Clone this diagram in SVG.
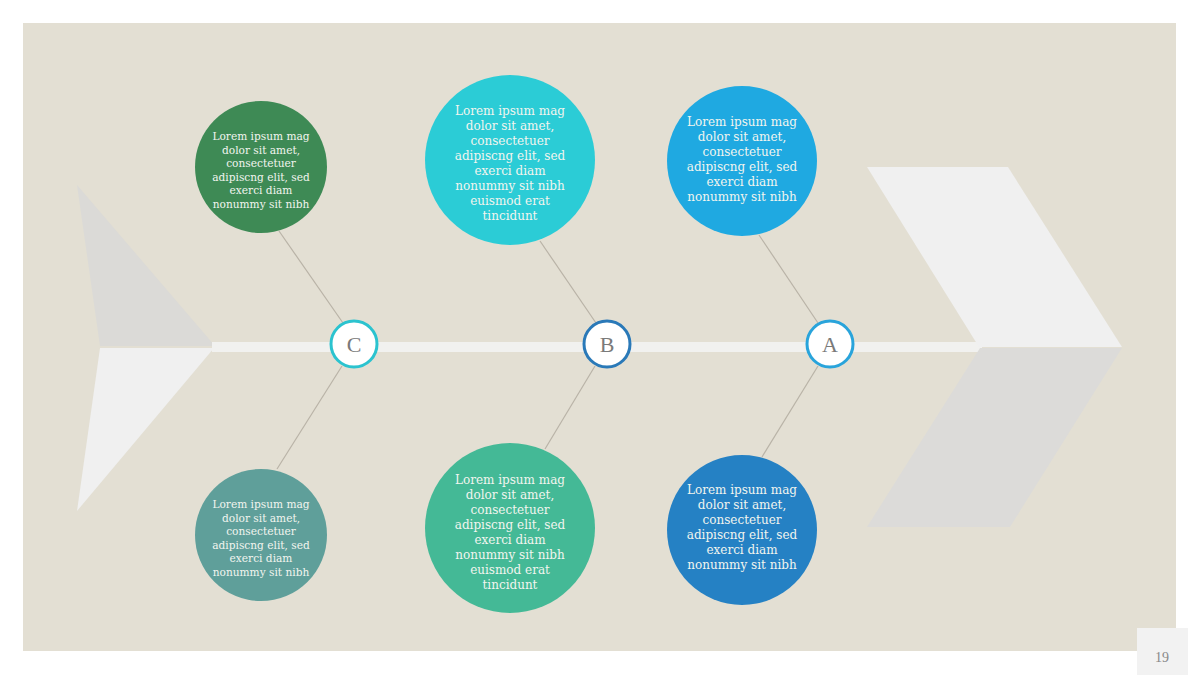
<svg xmlns="http://www.w3.org/2000/svg" width="1200" height="675" viewBox="0 0 1200 675">
<style>
.bub{font-family:"DejaVu Serif","Liberation Serif",serif;fill:#f2f5ef;text-anchor:middle}
.s{font-size:10.6px}
.m{font-size:12px}
.lbl{font-family:"Liberation Serif","DejaVu Serif",serif;font-size:22px;fill:#7a7a7a;text-anchor:middle}
.ring{fill:#ffffff;stroke-width:3}
.bone{stroke:#b9b3a7;stroke-width:1.2;fill:none}
</style>
<rect width="1200" height="675" fill="#ffffff"/>
<rect x="23" y="23" width="1153" height="628" fill="#e3dfd3"/>
<rect x="1137" y="628" width="51" height="47" fill="#f2f2f2"/>
<text x="1162" y="662" font-family="Liberation Serif, serif" font-size="14" fill="#888" text-anchor="middle">19</text>

<g id="tail">
<polygon points="77,185 215,346 100,346" fill="#dbdad7"/>
<polygon points="100,348 214,348 77,511" fill="#f0f0f0"/>
</g>
<g id="spine">
<rect x="212" y="342" width="770" height="10" fill="#f1f1ef"/>
</g>
<g id="head">
<polygon points="867,167 1008,167 1122,347 979,347" fill="#f0f0f0"/>
<polygon points="980,348 1122,348 1010,527 867,527" fill="#dcdbd9"/>
</g>

<g id="connectors">
<line class="bone" x1="279" y1="231" x2="343" y2="323"/>
<line class="bone" x1="342" y1="366" x2="277" y2="469"/>
<line class="bone" x1="540" y1="241" x2="596" y2="323"/>
<line class="bone" x1="595" y1="366" x2="545" y2="449"/>
<line class="bone" x1="759" y1="235" x2="818" y2="323"/>
<line class="bone" x1="818" y1="366" x2="762" y2="457"/>
</g>

<g id="nodeC"><circle class="ring" cx="354" cy="344" r="23" stroke="#2bc3cf"/><text class="lbl" x="354" y="352">C</text></g>
<g id="nodeB"><circle class="ring" cx="607" cy="344" r="23" stroke="#2a79b8"/><text class="lbl" x="607" y="352">B</text></g>
<g id="nodeA"><circle class="ring" cx="830" cy="344" r="23" stroke="#29a4db"/><text class="lbl" x="830" y="352">A</text></g>

<g id="c-top">
<circle cx="261" cy="167" r="66" fill="#3e8a55"/>
<text class="bub s"><tspan x="261" y="140">Lorem ipsum mag</tspan><tspan x="261" y="154">dolor sit amet,</tspan><tspan x="261" y="167">consectetuer</tspan><tspan x="261" y="181">adipiscng elit, sed</tspan><tspan x="261" y="194">exerci diam</tspan><tspan x="261" y="208">nonummy sit nibh</tspan></text>
</g>
<g id="c-bottom">
<circle cx="261" cy="535" r="66" fill="#5f9f9a"/>
<text class="bub s"><tspan x="261" y="508">Lorem ipsum mag</tspan><tspan x="261" y="522">dolor sit amet,</tspan><tspan x="261" y="535">consectetuer</tspan><tspan x="261" y="549">adipiscng elit, sed</tspan><tspan x="261" y="562">exerci diam</tspan><tspan x="261" y="576">nonummy sit nibh</tspan></text>
</g>
<g id="b-top">
<circle cx="510" cy="160" r="85" fill="#2bccd6"/>
<text class="bub m"><tspan x="510" y="115">Lorem ipsum mag</tspan><tspan x="510" y="130">dolor sit amet,</tspan><tspan x="510" y="145">consectetuer</tspan><tspan x="510" y="160">adipiscng elit, sed</tspan><tspan x="510" y="175">exerci diam</tspan><tspan x="510" y="190">nonummy sit nibh</tspan><tspan x="510" y="205">euismod erat</tspan><tspan x="510" y="220">tincidunt</tspan></text>
</g>
<g id="b-bottom">
<circle cx="510" cy="528" r="85" fill="#44b996"/>
<text class="bub m"><tspan x="510" y="484">Lorem ipsum mag</tspan><tspan x="510" y="499">dolor sit amet,</tspan><tspan x="510" y="514">consectetuer</tspan><tspan x="510" y="529">adipiscng elit, sed</tspan><tspan x="510" y="544">exerci diam</tspan><tspan x="510" y="559">nonummy sit nibh</tspan><tspan x="510" y="574">euismod erat</tspan><tspan x="510" y="589">tincidunt</tspan></text>
</g>
<g id="a-top">
<circle cx="742" cy="161" r="75" fill="#1fa9e1"/>
<text class="bub m"><tspan x="742" y="126">Lorem ipsum mag</tspan><tspan x="742" y="141">dolor sit amet,</tspan><tspan x="742" y="156">consectetuer</tspan><tspan x="742" y="171">adipiscng elit, sed</tspan><tspan x="742" y="186">exerci diam</tspan><tspan x="742" y="201">nonummy sit nibh</tspan></text>
</g>
<g id="a-bottom">
<circle cx="742" cy="530" r="75" fill="#2581c4"/>
<text class="bub m"><tspan x="742" y="494">Lorem ipsum mag</tspan><tspan x="742" y="509">dolor sit amet,</tspan><tspan x="742" y="524">consectetuer</tspan><tspan x="742" y="539">adipiscng elit, sed</tspan><tspan x="742" y="554">exerci diam</tspan><tspan x="742" y="569">nonummy sit nibh</tspan></text>
</g>
</svg>
